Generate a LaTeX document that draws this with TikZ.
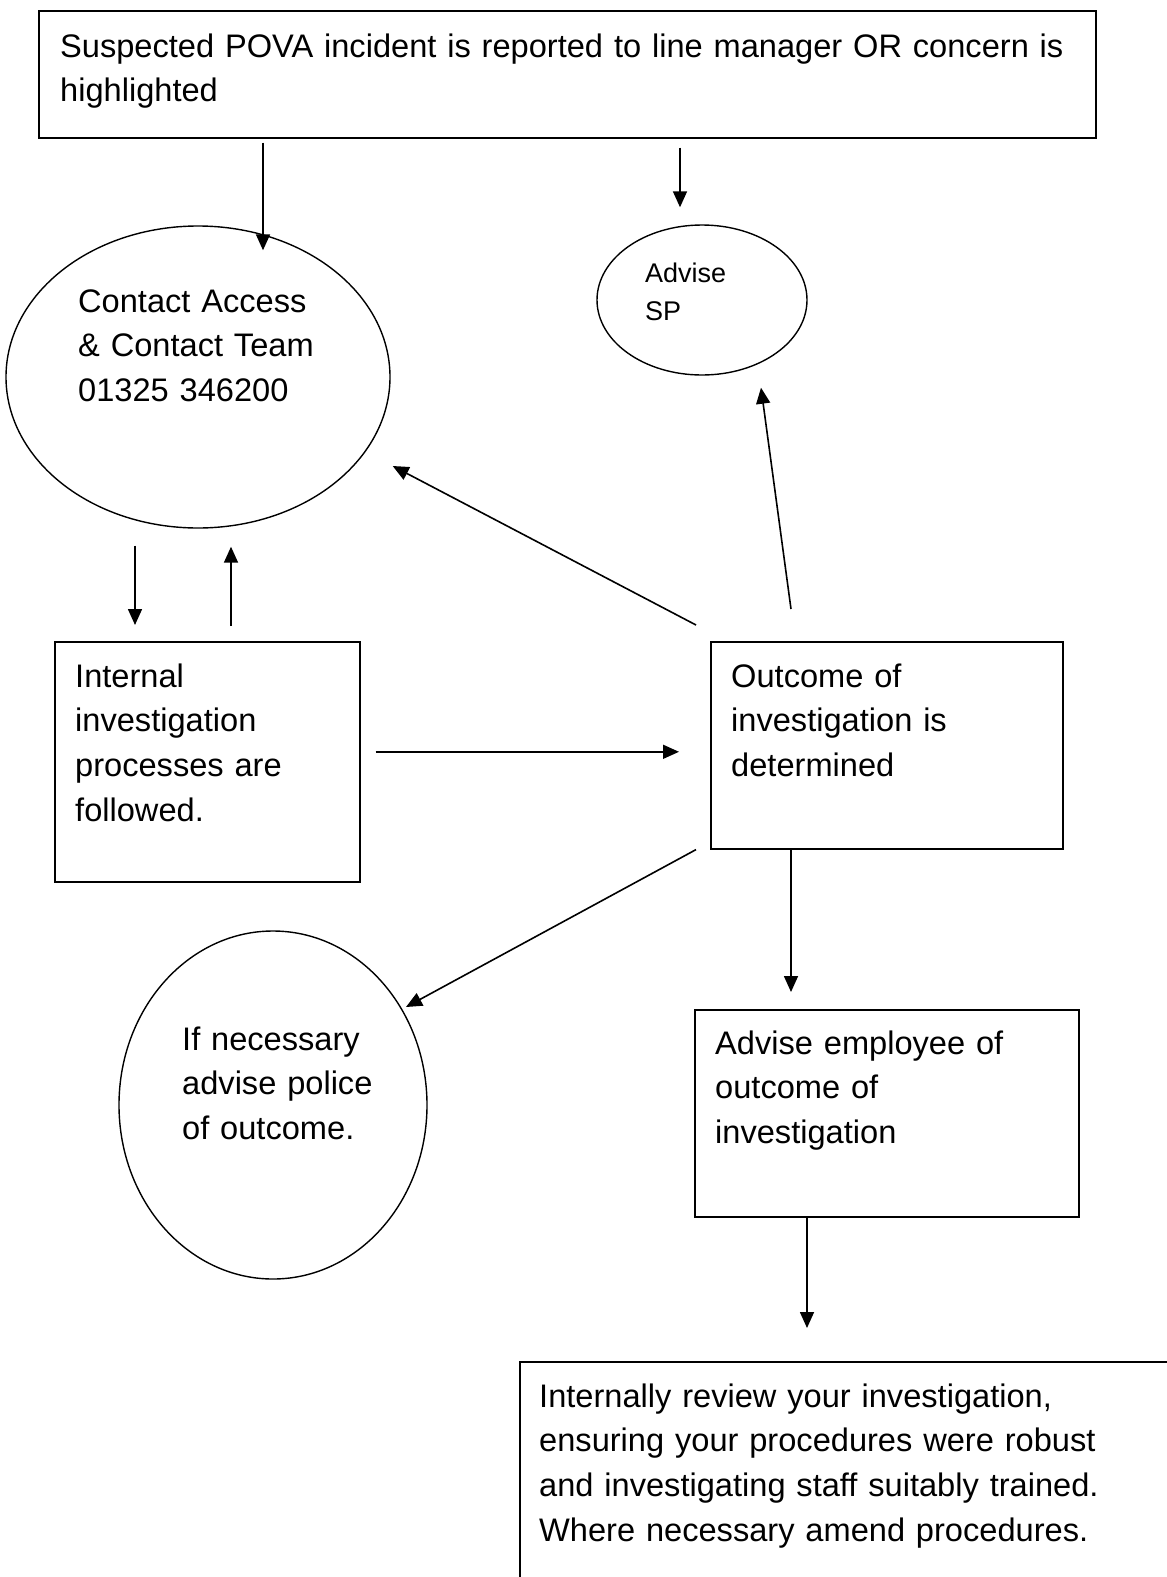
\documentclass[tikz,border=0pt]{standalone}
\usepackage{fontspec}
\setmainfont{Liberation Sans}
\usetikzlibrary{calc, arrows.meta, shapes.geometric}

\tikzset{
  box/.style={draw, line width=1.6pt, rectangle, anchor=north west, inner sep=0pt},
  oval/.style={draw, line width=1.4pt, ellipse, inner sep=0pt},
  words/.style={anchor=base west, inner sep=0pt, align=left, text width=#1, font=\fontsize{32.6}{44.8}\selectfont},
  words/.default=400pt,
  flow/.style={line width=1.6pt, -{Triangle[length=16pt,width=14pt]}}
}

\begin{document}
\begin{tikzpicture}[x=1pt, y=-1pt]
\clip (0,0) rectangle (1167,1577);
% Incident reported
\node[box, minimum width=1057pt, minimum height=127pt] (report) at (38,10) {};
\node[words=1060pt] (reporttext) at (60,57) {Suspected POVA incident is reported to line manager OR concern is\\highlighted};
% Access and contact team
\node[oval, minimum width=384pt, minimum height=302pt] (contact) at (198,377) {};
\node[words=300pt] (contacttext) at (78,312) {Contact Access\\\& Contact Team\\01325 346200};
% Advise SP
\node[oval, minimum width=210pt, minimum height=150pt] (advise) at (702,300) {};
\node[words=150pt, font=\fontsize{27}{38}\selectfont] (advisetext) at (645,282) {Advise\\SP};
% Internal investigation
\node[box, minimum width=305pt, minimum height=240pt] (internal) at (54,641) {};
\node[words=280pt] (internaltext) at (75,687) {Internal\\investigation\\processes are\\followed.};
% Outcome
\node[box, minimum width=352pt, minimum height=207pt] (outcome) at (710,641) {};
\node[words=320pt] (outcometext) at (731,687) {Outcome of\\investigation is\\determined};
% Police
\node[oval, minimum width=308pt, minimum height=348pt] (police) at (273,1105) {};
\node[words=260pt] (policetext) at (182,1050) {If necessary\\advise police\\of outcome.};
% Advise employee
\node[box, minimum width=384pt, minimum height=207pt] (employee) at (694,1009) {};
\node[words=360pt] (employeetext) at (715,1054) {Advise employee of\\outcome of\\investigation};
% Internal review, runs off the page
\node[box, minimum width=700pt, minimum height=300pt] (review) at (519,1361) {};
\node[words=620pt] (reviewtext) at (539,1407) {Internally review your investigation,\\ensuring your procedures were robust\\and investigating staff suitably trained.\\Where necessary amend procedures.};

% Arrows from the report
\draw[flow] ($(report.south west)+(225,4)$) -- ($(contact.north)+(65,25)$);
\draw[flow] ($(report.south west)+(642,9)$) -- ($(advise.north)+(-22,-17)$);
% Contact and internal, both ways
\draw[flow] ($(contact.south)+(-63,17)$) -- ($(internal.north west)+(81,-16)$);
\draw[flow] ($(internal.north west)+(177,-15)$) -- ($(contact.south)+(33,18)$);
% Internal to outcome
\draw[flow] ($(internal.east)+(15,-10)$) -- ($(outcome.west)+(-31,6.5)$);
% Outcome back up
\draw[flow] ($(outcome.north west)+(-14,-16)$) -- ($(contact.east)+(2,89)$);
\draw[flow] ($(outcome.north west)+(81,-32)$) -- ($(advise.south)+(59,12)$);
% Outcome down
\draw[flow] ($(outcome.south west)+(-14,0)$) -- ($(police.center)+(133,-98)$);
\draw[flow] ($(outcome.south west)+(81,0)$) -- ($(employee.north west)+(97,-17)$);
% Employee to review
\draw[flow] ($(employee.south west)+(113,0)$) -- ($(review.north west)+(288,-33)$);
\end{tikzpicture}
\end{document}
